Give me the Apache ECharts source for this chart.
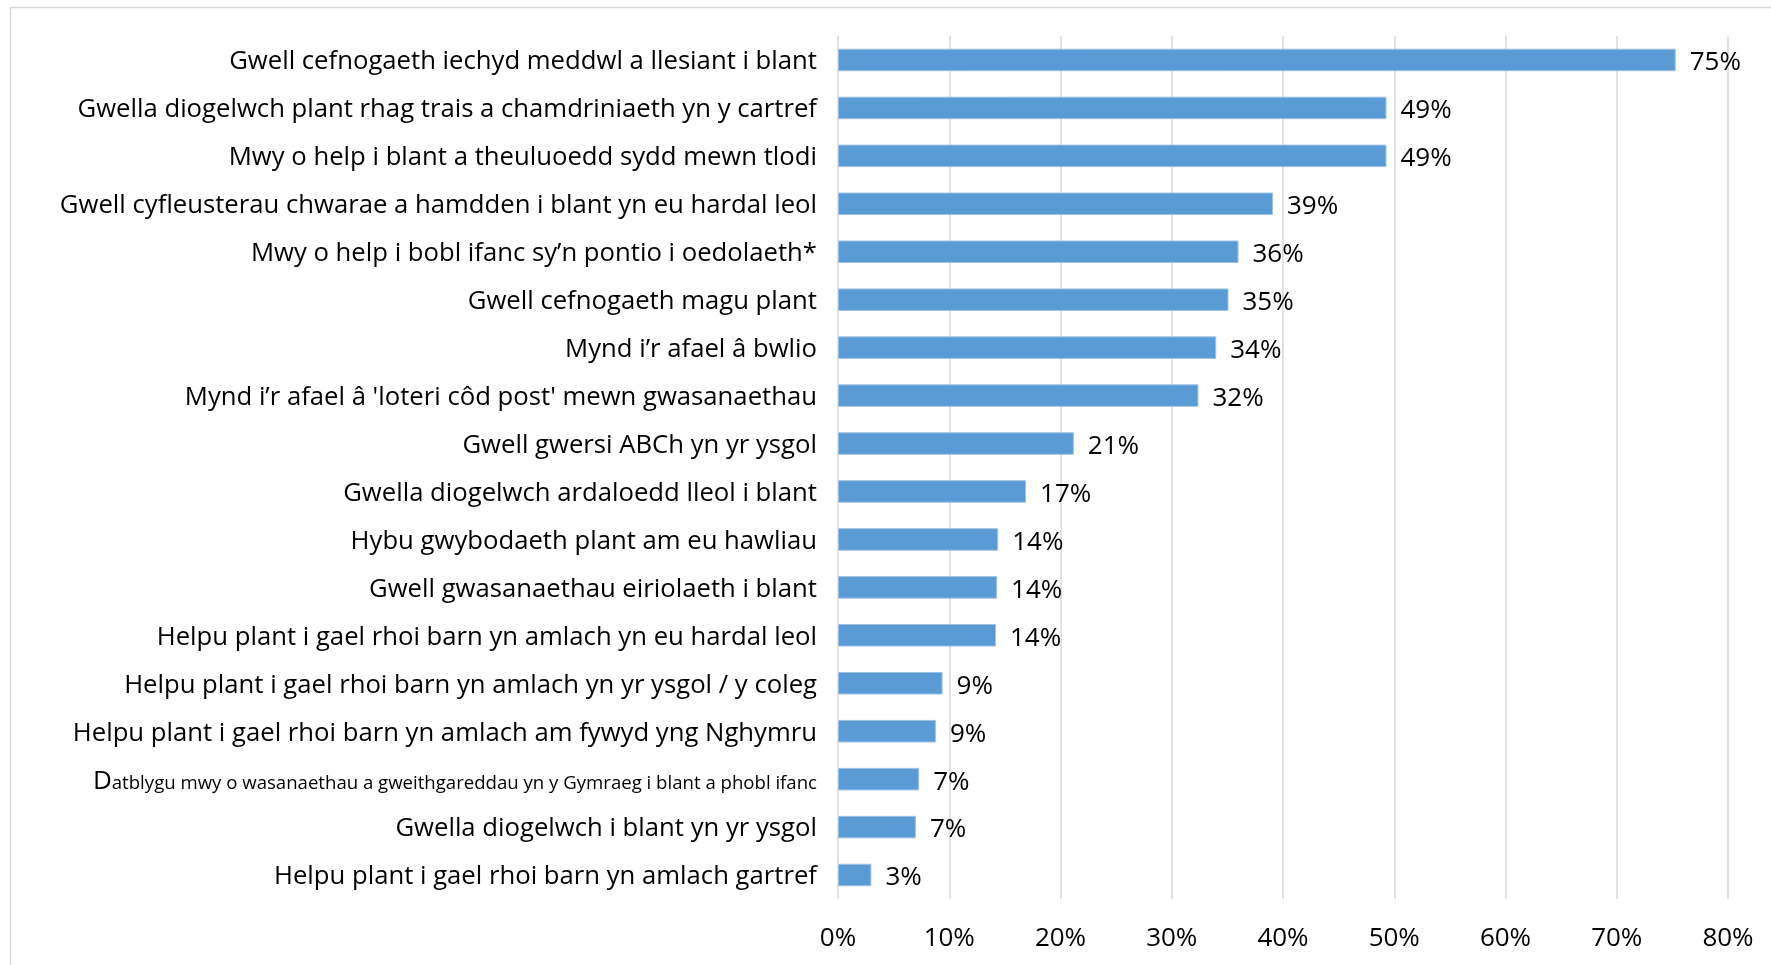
<!DOCTYPE html>
<html>
<head>
<meta charset="utf-8">
<script src="https://cdn.jsdelivr.net/npm/echarts@6/dist/echarts.min.js"></script>
<style>
  html, body { margin: 0; padding: 0; background: #fff; }
  #chart { width: 1771px; height: 965px; }
</style>
</head>
<body>
<div id="chart"></div>
<script>
// categories, top to bottom
const categories = [
  'Gwell cefnogaeth iechyd meddwl a llesiant i blant',
  'Gwella diogelwch plant rhag trais a chamdriniaeth yn y cartref',
  'Mwy o help i blant a theuluoedd sydd mewn tlodi',
  'Gwell cyfleusterau chwarae a hamdden i blant yn eu hardal leol',
  'Mwy o help i bobl ifanc sy\u2019n pontio i oedolaeth*',
  'Gwell cefnogaeth magu plant',
  'Mynd i\u2019r afael \u00e2 bwlio',
  'Mynd i\u2019r afael \u00e2 \'loteri c\u00f4d post\' mewn gwasanaethau',
  'Gwell gwersi ABCh yn yr ysgol',
  'Gwella diogelwch ardaloedd lleol i blant',
  'Hybu gwybodaeth plant am eu hawliau',
  'Gwell gwasanaethau eiriolaeth i blant',
  'Helpu plant i gael rhoi barn yn amlach yn eu hardal leol',
  'Helpu plant i gael rhoi barn yn amlach yn yr ysgol / y coleg',
  'Helpu plant i gael rhoi barn yn amlach am fywyd yng Nghymru',
  'Datblygu mwy o wasanaethau a gweithgareddau yn y Gymraeg i blant a phobl ifanc',
  'Gwella diogelwch i blant yn yr ysgol',
  'Helpu plant i gael rhoi barn yn amlach gartref'
]

// percentage of respondents
const values = [75.3, 49.3, 49.3, 39.1, 36.0, 35.1, 34.0, 32.4, 21.2, 16.9, 14.4, 14.3, 14.2, 9.4, 8.8, 7.3, 7.0, 3.0]

const xTicks = [0, 10, 20, 30, 40, 50, 60, 70, 80]

const FONT = '"Open Sans", "Noto Sans", sans-serif'
const chart = echarts.init(document.getElementById('chart'))

const option = {
  animation: false,
  textStyle: { fontFamily: FONT },
  graphic: [{
    type: 'rect',
    shape: { x: 10.5, y: 7.5, width: 1800, height: 1000 },
    style: { fill: 'none', stroke: '#d9d9d9', lineWidth: 1.5 },
    silent: true
  }],
  grid: {
    left: 838,
    right: 43,
    top: 36,
    bottom: 66
  },
  xAxis: {
    type: 'value',
    min: xTicks[0],
    max: xTicks[xTicks.length - 1],
    interval: 10,
    axisLine: { show: false },
    axisTick: { show: false },
    splitLine: { lineStyle: { color: '#d9d9d9', width: 1.5 } },
    axisLabel: {
      color: '#000',
      fontSize: 26,
      margin: 27,
      formatter: '{value}%'
    }
  },
  yAxis: {
    type: 'category',
    inverse: true,
    data: categories,
    axisLine: { show: false },
    axisTick: { show: false },
    axisLabel: {
      color: '#000',
      fontSize: 25.7,
      margin: 21,
      lineHeight: 30,
      padding: [4, 0, 0, 0],
      formatter: function (v) {
        // this one is set smaller in the original, only the first letter keeps full size
        if (v.indexOf('Datblygu') === 0) {
          return '{big|D}{small|' + v.slice(1) + '}'
        }
        return v
      },
      rich: {
        big: { fontSize: 26, color: '#000', fontFamily: FONT },
        small: { fontSize: 18.6, color: '#000', fontFamily: FONT, padding: [6, 0, 0, 0] }
      }
    }
  },
  series: [{
    type: 'bar',
    data: values,
    barCategoryGap: '53%',
    itemStyle: {
      color: '#5b9bd5',
      borderColor: '#9dc3e6',
      borderWidth: 1
    },
    label: {
      show: true,
      position: 'right',
      distance: 14,
      color: '#000',
      fontSize: 26,
      offset: [0, 3],
      formatter: p => Math.round(p.value) + '%'
    }
  }]
}

chart.setOption(option)
window.addEventListener('resize', () => chart.resize())
</script>
</body>
</html>
